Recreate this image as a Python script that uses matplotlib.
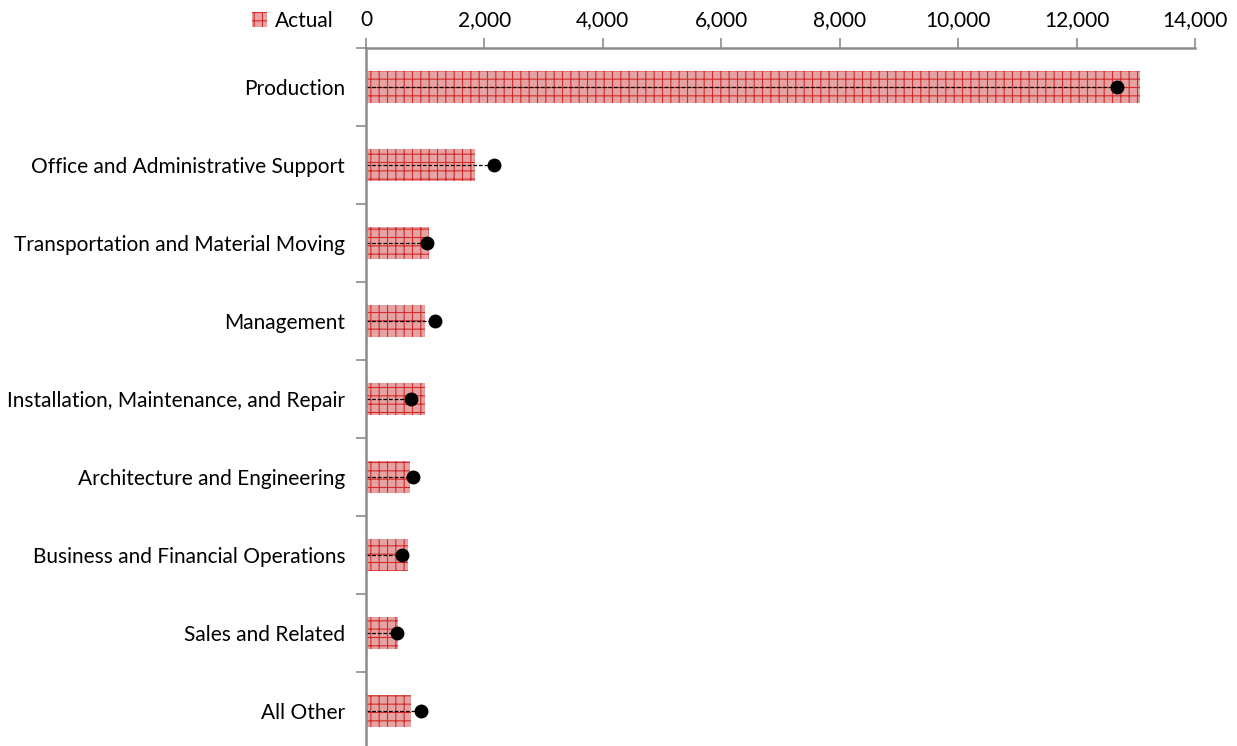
import matplotlib.pyplot as plt
import numpy as np

plt.rcParams["font.family"] = ["Lato", "DejaVu Sans"]
plt.rcParams["hatch.linewidth"] = 0.8
plt.rcParams["hatch.color"] = "#d42a2a"

categories = [
    "Production",
    "Office and Administrative Support",
    "Transportation and Material Moving",
    "Management",
    "Installation, Maintenance, and Repair",
    "Architecture and Engineering",
    "Business and Financial Operations",
    "Sales and Related",
    "All Other",
]
actual = [13070, 1840, 1064, 996, 996, 743, 709, 540, 760]
target = [12680, 2160, 1030, 1165, 760, 794, 608, 524, 929]
x_ticks = [0, 2000, 4000, 6000, 8000, 10000, 12000, 14000]

GRAY = "#8c8c8c"

fig = plt.figure(figsize=(12.37, 7.46), dpi=100)
ax = fig.add_axes([0.2959, -0.0054, 0.6702, 0.9411])

y = np.arange(len(categories))
bars = ax.barh(y, actual, height=0.4, color="#e6a3a3", edgecolor="#d42a2a",
               linewidth=0, hatch="++", label="Actual")
ax.hlines(y, 0, target, colors="black", linestyles=(0, (3, 1.5)), linewidth=0.9)
ax.plot(target, y, "o", color="black", markersize=9, zorder=4)

ax.set_ylim(len(categories) - 0.5, -0.5)
ax.set_xlim(0, 14000)
ax.xaxis.tick_top()
ax.set_xticks(x_ticks)
ax.set_xticklabels([f"{v:,}" for v in x_ticks])
ax.set_yticks(y)
ax.set_yticklabels(categories)
ax.set_yticks(np.arange(len(categories) + 1) - 0.5, minor=True)
ax.tick_params(axis="y", which="major", length=0, pad=15, labelsize=15)
ax.tick_params(axis="y", which="minor", length=7, color=GRAY, width=1.2)
ax.tick_params(axis="x", length=7, color=GRAY, width=1.2, labelsize=15,
               direction="out", pad=6)

for side in ["right", "bottom"]:
    ax.spines[side].set_visible(False)
for side in ["top", "left"]:
    ax.spines[side].set_color(GRAY)
    ax.spines[side].set_linewidth(1.8)

fig.legend(handles=[bars], loc="center right", bbox_to_anchor=(0.2785, 0.972),
           frameon=False, fontsize=15, handlelength=0.7, handleheight=0.7,
           handletextpad=0.4, borderpad=0)

fig.savefig("out.png", dpi=100)
